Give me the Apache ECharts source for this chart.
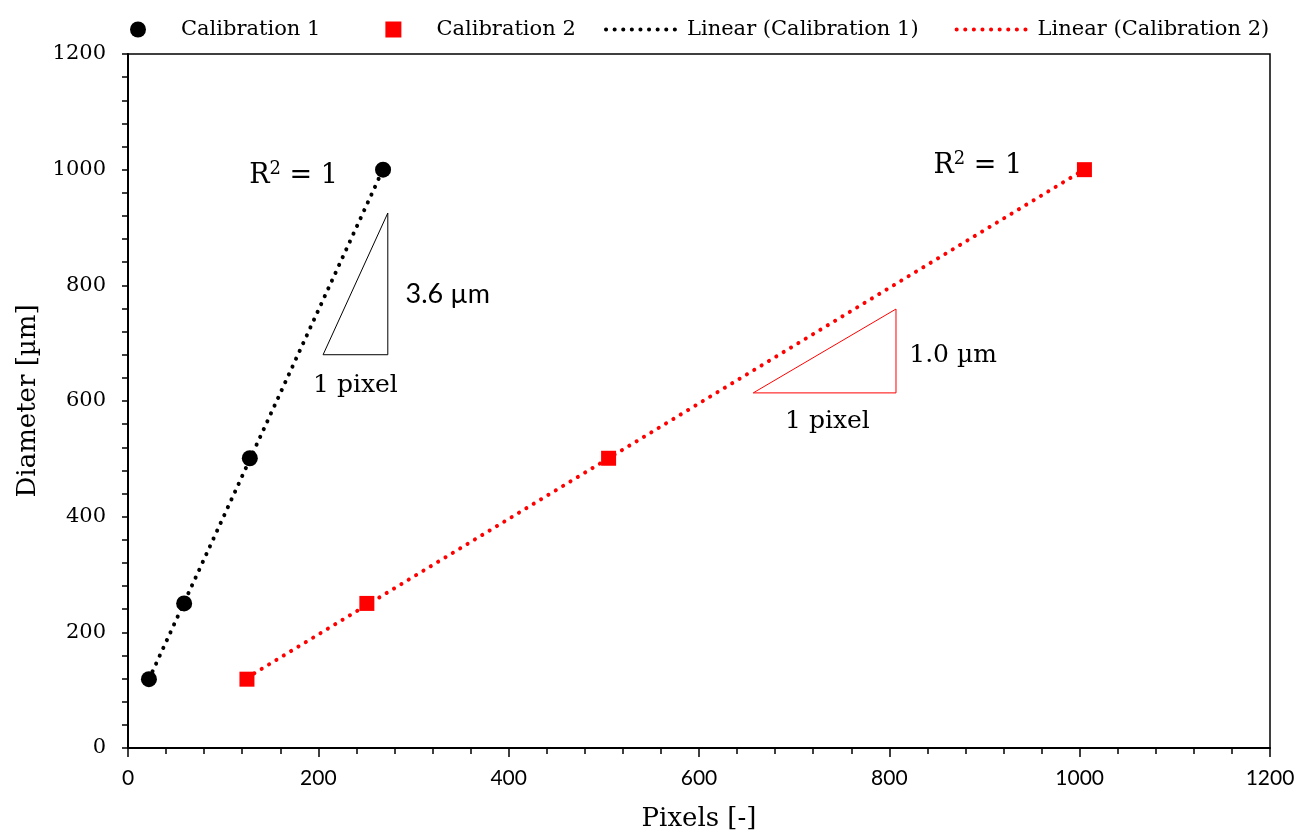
<!DOCTYPE html>
<html>
<head>
<meta charset="utf-8">
<script src="https://cdn.jsdelivr.net/npm/echarts@6/dist/echarts.min.js"></script>
<style>
  html, body { margin: 0; padding: 0; background: #fff; }
  #chart { width: 1299px; height: 839px; }
</style>
</head>
<body>
<div id="chart"></div>
<script>
// measured points
const cal1X = [22, 59, 128, 268];
const cal1Y = [119, 250, 501, 1000];
const cal2X = [125, 251, 505, 1005];
const cal2Y = [119, 250, 501, 1000];

// slope triangles (data units)
const tri1 = [[205, 680], [273, 680], [273, 925], [205, 680]];
const tri2 = [[657, 614], [807, 614], [807, 759], [657, 614]];

// text annotations
const noteText = ['R{s|2} = 1', 'R{s|2} = 1', '3.6 µm', '1 pixel', '1.0 µm', '1 pixel'];
const notePos = [[174, 989], [893, 1006], [336, 785], [239, 627], [867, 678], [735, 565]];
const noteFont = ['DejaVu Serif', 'DejaVu Serif', 'Lato', 'DejaVu Serif', 'DejaVu Serif', 'DejaVu Serif'];
const noteSize = [27, 27, 27, 25, 25, 25];

const xTicks = { min: 0, max: 1200, interval: 200 };
const yTicks = { min: 0, max: 1200, interval: 200 };

function pairs(xs, ys) {
    return xs.map((x, i) => [x, ys[i]]);
}

// least squares trendline, drawn over the data's x range
function trend(xs, ys) {
    const n = xs.length;
    const mx = xs.reduce((a, b) => a + b, 0) / n;
    const my = ys.reduce((a, b) => a + b, 0) / n;
    let sxy = 0, sxx = 0;
    xs.forEach((x, i) => { sxy += (x - mx) * (ys[i] - my); sxx += (x - mx) * (x - mx); });
    const k = sxy / sxx, b = my - k * mx;
    const x0 = Math.min(...xs), x1 = Math.max(...xs);
    return [[x0, k * x0 + b], [x1, k * x1 + b]];
}

const dots = { width: 4, type: [0.1, 8.5], cap: 'round' };

const option = {
    animation: false,
    grid: {
        left: 128, right: 29, top: 54, bottom: 91,
        show: true, borderColor: '#000', borderWidth: 1.5
    },
    legend: [
        {
            data: ['Calibration 1', 'Calibration 2'],
            left: 125, top: 14,
            itemWidth: 16, itemHeight: 16, itemGap: 65,
            textStyle: { fontFamily: 'DejaVu Serif', fontSize: 21, color: '#000', padding: [0, 0, 0, 30] }
        },
        {
            data: ['Linear (Calibration 1)', 'Linear (Calibration 2)'],
            left: 599, top: 14,
            itemWidth: 76, itemHeight: 16, itemGap: 36,
            itemStyle: { color: 'rgba(0,0,0,0)', borderWidth: 0 },
            lineStyle: { width: 4, type: [0.1, 8.5], cap: 'round' },
            textStyle: { fontFamily: 'DejaVu Serif', fontSize: 21, color: '#000' }
        }
    ],
    xAxis: {
        type: 'value',
        min: xTicks.min, max: xTicks.max, interval: xTicks.interval,
        name: 'Pixels [-]', nameLocation: 'middle', nameGap: 58,
        nameTextStyle: { fontFamily: 'DejaVu Serif', fontSize: 26, color: '#000' },
        axisLine: { lineStyle: { color: '#000', width: 2 } },
        axisTick: { length: 9, lineStyle: { color: '#000', width: 1.5 } },
        minorTick: { show: true, splitNumber: 5, length: 6, lineStyle: { color: '#000', width: 1.5 } },
        splitLine: { show: false },
        axisLabel: { fontFamily: 'Lato', fontSize: 21, color: '#000', margin: 20, formatter: v => String(v) }
    },
    yAxis: {
        type: 'value',
        min: yTicks.min, max: yTicks.max, interval: yTicks.interval,
        name: 'Diameter [µm]', nameLocation: 'middle', nameGap: 81,
        nameTextStyle: { fontFamily: 'DejaVu Serif', fontSize: 26, color: '#000' },
        axisLine: { show: true, lineStyle: { color: '#000', width: 2 } },
        axisTick: { show: true, length: 6, lineStyle: { color: '#000', width: 1.5 } },
        minorTick: { show: true, splitNumber: 5, length: 6, lineStyle: { color: '#000', width: 1.5 } },
        splitLine: { show: false },
        axisLabel: { fontFamily: 'DejaVu Serif', fontSize: 21, color: '#000', margin: 22, formatter: v => String(v) }
    },
    series: [
        {
            name: 'Linear (Calibration 1)', type: 'line', data: trend(cal1X, cal1Y),
            symbol: 'none', color: '#000', lineStyle: Object.assign({ color: '#000' }, dots), z: 2
        },
        {
            name: 'Linear (Calibration 2)', type: 'line', data: trend(cal2X, cal2Y),
            symbol: 'none', color: '#ff0000', lineStyle: Object.assign({ color: '#ff0000' }, dots), z: 2
        },
        {
            name: 'Calibration 1', type: 'scatter', data: pairs(cal1X, cal1Y),
            symbol: 'circle', symbolSize: 16, itemStyle: { color: '#000', opacity: 1 }, z: 3
        },
        {
            name: 'Calibration 2', type: 'scatter', data: pairs(cal2X, cal2Y),
            symbol: 'rect', symbolSize: 15, itemStyle: { color: '#ff0000', opacity: 1 }, z: 3
        },
        {
            type: 'line', data: tri1, symbol: 'none', silent: true,
            lineStyle: { color: '#000', width: 1 }
        },
        {
            type: 'line', data: tri2, symbol: 'none', silent: true,
            lineStyle: { color: '#ff0000', width: 1 }
        },
        {
            type: 'scatter', symbolSize: 0, silent: true,
            itemStyle: { opacity: 1 },
            data: notePos.map((p, i) => ({
                value: p,
                label: {
                    show: true, position: 'inside',
                    formatter: noteText[i],
                    fontFamily: noteFont[i], fontSize: noteSize[i], color: '#000',
                    textBorderWidth: 0, opacity: 1,
                    align: 'center', verticalAlign: 'middle',
                    rich: { s: { fontFamily: noteFont[i], fontSize: 18, color: '#000', padding: [0, 0, 14, 0] } }
                }
            }))
        }
    ]
};

echarts.init(document.getElementById('chart')).setOption(option);
</script>
</body>
</html>
